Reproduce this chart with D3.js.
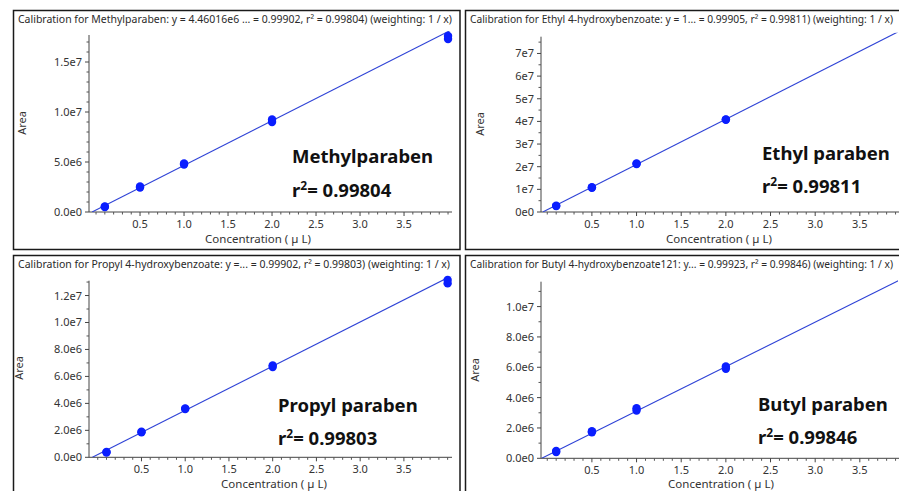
<!DOCTYPE html>
<html><head><meta charset="utf-8">
<script src="https://cdn.jsdelivr.net/npm/d3@7"></script>
<style>
html,body{margin:0;padding:0;background:#fff;overflow:hidden}
svg{display:block}
text{font-family:"Noto Sans","Open Sans",sans-serif}
</style></head>
<body>
<svg id="c" width="899" height="491"></svg>
<script>
// ---------- data ----------
const chartTitles = [
  "Calibration for Methylparaben: y = 4.46016e6 ... = 0.99902, r\u00b2 = 0.99804)  (weighting: 1 / x)",
  "Calibration for Ethyl 4-hydroxybenzoate: y = 1... = 0.99905, r\u00b2 = 0.99811)  (weighting: 1 / x)",
  "Calibration for Propyl 4-hydroxybenzoate: y =... = 0.99902, r\u00b2 = 0.99803)  (weighting: 1 / x)",
  "Calibration for Butyl 4-hydroxybenzoate121: y... = 0.99923, r\u00b2 = 0.99846)  (weighting: 1 / x)"
];
const compoundNames = ["Methylparaben", "Ethyl paraben", "Propyl paraben", "Butyl paraben"];
const rSquared = ["0.99804", "0.99811", "0.99803", "0.99846"];

const methylConc = [0.1, 0.1, 0.5, 0.5, 1.0, 1.0, 2.0, 2.0, 4.0, 4.0];
const methylArea = [0.5e6, 0.55e6, 2.45e6, 2.55e6, 4.75e6, 4.85e6, 9.0e6, 9.25e6, 17.3e6, 17.6e6];
const ethylConc = [0.1, 0.1, 0.5, 0.5, 1.0, 1.0, 2.0, 2.0, 4.0];
const ethylArea = [2.6e6, 2.8e6, 10.7e6, 10.9e6, 21.2e6, 21.4e6, 40.7e6, 40.9e6, 80.5e6];
const propylConc = [0.1, 0.1, 0.5, 0.5, 1.0, 1.0, 2.0, 2.0, 4.0, 4.0];
const propylArea = [0.35e6, 0.4e6, 1.85e6, 1.9e6, 3.58e6, 3.63e6, 6.7e6, 6.82e6, 12.9e6, 13.15e6];
const butylConc = [0.1, 0.1, 0.5, 0.5, 1.0, 1.0, 2.0, 2.0, 4.0];
const butylArea = [0.42e6, 0.48e6, 1.72e6, 1.78e6, 3.15e6, 3.3e6, 5.9e6, 6.05e6, 11.8e6];

const fitSlope = [4.46016e6, 2.0e7, 3.28e6, 2.93e6];
const fitIntercept = [0.2e6, 1.0e6, 0.2e6, 0.18e6];

const xTickValues = [0.5, 1.0, 1.5, 2.0, 2.5, 3.0, 3.5];
const xTickLabels = ["0.5", "1.0", "1.5", "2.0", "2.5", "3.0", "3.5"];
const yTickValues = [
  [0, 5e6, 1e7, 1.5e7],
  [0, 1e7, 2e7, 3e7, 4e7, 5e7, 6e7, 7e7],
  [0, 2e6, 4e6, 6e6, 8e6, 1e7, 1.2e7],
  [0, 2e6, 4e6, 6e6, 8e6, 1e7]
];
const yTickLabels = [
  ["0.0e0", "5.0e6", "1.0e7", "1.5e7"],
  ["0e0", "1e7", "2e7", "3e7", "4e7", "5e7", "6e7", "7e7"],
  ["0.0e0", "2.0e6", "4.0e6", "6.0e6", "8.0e6", "1.0e7", "1.2e7"],
  ["0.0e0", "2.0e6", "4.0e6", "6.0e6", "8.0e6", "1.0e7"]
];
const yMinorStep = [1e6, 5e6, 1e6, 1e6];
const yMax = [1.77e7, 7.74e7, 1.31e7, 1.164e7];
const xDomains = [[-0.08, 4.045], [-0.07, 4.045], [-0.1, 4.05], [-0.07, 4.045]];
const xLabel = "Concentration ( \u00b5 L)";
const yLabel = "Area";

// ---------- layout ----------
const panels = [
  {frame:[13.5, 10.5, 460, 249.5], plot:[89, 452, 35, 212], conc:methylConc, area:methylArea,
   titleLen:434, titleSize:11, ann:[292, 163, 197], xl:[258, 243], yl:[26, 123]},
  {frame:[465.5, 10.5, 910, 249.5], plot:[541, 908.5, 36.7, 212], conc:ethylConc, area:ethylArea,
   titleLen:423, titleSize:10.4, ann:[762, 160, 193], xl:[719, 243], yl:[484, 124]},
  {frame:[13.5, 255.5, 460, 500], plot:[89, 452, 280.7, 457.3], conc:propylConc, area:propylArea,
   titleLen:432, titleSize:11, ann:[278, 412, 445], xl:[274, 488], yl:[23, 368]},
  {frame:[465.5, 255.5, 910, 500], plot:[541, 908.5, 281.7, 458.3], conc:butylConc, area:butylArea,
   titleLen:423, titleSize:10.1, ann:[758, 411, 444], xl:[721, 488], yl:[479, 370]}
];

const svg = d3.select("#c");
svg.append("rect").attr("width", 899).attr("height", 491).attr("fill", "#fff");

panels.forEach((p, i) => {
  const g = svg.append("g");
  const [fx0, fy0, fx1, fy1] = p.frame;
  g.append("rect").attr("x", fx0).attr("y", fy0).attr("width", fx1 - fx0).attr("height", fy1 - fy0)
    .attr("fill", "#fff").attr("stroke", "#1a1a1a").attr("stroke-width", 1.5);

  // title
  g.append("text").attr("x", fx0 + 4.5).attr("y", fy0 + 12.5)
    .attr("font-size", p.titleSize).attr("fill", "#2a2a2a")
    .attr("textLength", p.titleLen).attr("lengthAdjust", "spacingAndGlyphs")
    .text(chartTitles[i]);

  const [px0, px1, py0, py1] = p.plot;
  const x = d3.scaleLinear().domain(xDomains[i]).range([px0, px1]);
  const y = d3.scaleLinear().domain([0, yMax[i]]).range([py1, py0]);

  const clipId = "clip" + i;
  svg.append("clipPath").attr("id", clipId).append("rect")
    .attr("x", px0).attr("y", py0 - 4).attr("width", Math.min(px1, 898) - px0).attr("height", py1 - py0 + 4);

  // x axis
  const xMinor = d3.range(0, 41).map(v => v / 10).filter(v => v >= xDomains[i][0] && v <= xDomains[i][1] && xTickValues.indexOf(v) < 0);
  const xa = g.append("g").attr("transform", `translate(0,${py1})`);
  xa.append("line").attr("x1", px0).attr("x2", px1).attr("stroke", "#444").attr("stroke-width", 1);
  xa.selectAll(".mn").data(xMinor).join("line").attr("x1", d => x(d)).attr("x2", d => x(d))
    .attr("y1", 0).attr("y2", 2.5).attr("stroke", "#555");
  xa.selectAll(".mj").data(xTickValues).join("line").attr("x1", d => x(d)).attr("x2", d => x(d))
    .attr("y1", 0).attr("y2", 4).attr("stroke", "#444");
  xa.selectAll(".lb").data(xTickValues).join("text").attr("x", d => x(d)).attr("y", 16)
    .attr("text-anchor", "middle").attr("font-size", 11).attr("fill", "#333")
    .text((d, k) => xTickLabels[k]);

  // y axis
  const yMinor = d3.range(0, yMax[i] + 1, yMinorStep[i]).filter(v => yTickValues[i].indexOf(v) < 0);
  const ya = g.append("g").attr("transform", `translate(${px0},0)`);
  ya.append("line").attr("y1", py0).attr("y2", py1).attr("stroke", "#444").attr("stroke-width", 1);
  ya.selectAll(".mn").data(yMinor).join("line").attr("y1", d => y(d)).attr("y2", d => y(d))
    .attr("x1", 0).attr("x2", -2.5).attr("stroke", "#555");
  ya.selectAll(".mj").data(yTickValues[i]).join("line").attr("y1", d => y(d)).attr("y2", d => y(d))
    .attr("x1", 0).attr("x2", -4).attr("stroke", "#444");
  ya.selectAll(".lb").data(yTickValues[i]).join("text").attr("x", -7).attr("y", d => y(d) + 4)
    .attr("text-anchor", "end").attr("font-size", 11).attr("fill", "#333")
    .text((d, k) => yTickLabels[i][k]);

  // axis labels
  g.append("text").attr("x", p.xl[0]).attr("y", p.xl[1]).attr("text-anchor", "middle")
    .attr("font-size", 11.5).attr("fill", "#333").text(xLabel);
  g.append("text").attr("transform", `translate(${p.yl[0]},${p.yl[1]}) rotate(-90)`)
    .attr("text-anchor", "middle").attr("font-size", 11).attr("fill", "#333").text(yLabel);

  // regression line
  const m = fitSlope[i], b = fitIntercept[i];
  const xs = Math.max(xDomains[i][0], -b / m), xe = xDomains[i][1];
  g.append("line").attr("clip-path", `url(#${clipId})`)
    .attr("x1", x(xs)).attr("y1", y(m * xs + b)).attr("x2", x(xe)).attr("y2", y(m * xe + b))
    .attr("stroke", "#2f43d6").attr("stroke-width", 1.1);

  // points
  g.selectAll(".pt").data(p.conc.map((c, k) => [c, p.area[k]])).join("circle")
    .attr("cx", d => x(d[0])).attr("cy", d => y(d[1])).attr("r", 4.2).attr("fill", "#0a1eff");

  // annotation
  g.append("text").attr("x", p.ann[0]).attr("y", p.ann[1])
    .attr("font-family", "'Open Sans',sans-serif").attr("font-weight", 700)
    .attr("font-size", 18.5).attr("fill", "#111").text(compoundNames[i]);
  const a2 = g.append("text").attr("x", p.ann[0]).attr("y", p.ann[2])
    .attr("font-family", "'Open Sans',sans-serif").attr("font-weight", 700)
    .attr("font-size", 18.5).attr("fill", "#111");
  a2.append("tspan").text("r");
  a2.append("tspan").attr("font-size", 12).attr("dy", -7).text("2");
  a2.append("tspan").attr("dy", 7).text("= " + rSquared[i]);
});
</script>
</body></html>
